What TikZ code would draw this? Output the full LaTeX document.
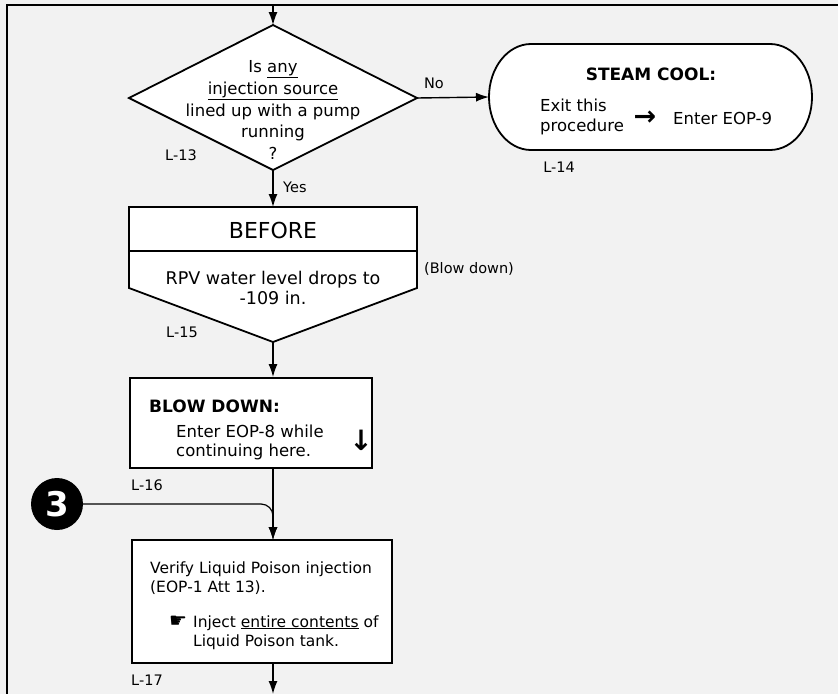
\documentclass[tikz,border=0pt]{standalone}
\usepackage{fontspec}
\setmainfont{DejaVu Sans}
\usetikzlibrary{arrows.meta}
\definecolor{bgc}{gray}{0.95}
\begin{document}
\begin{tikzpicture}[x=1pt,y=-1pt,
  shp/.style={draw=black, line width=1.8pt, fill=white, line join=miter},
  con/.style={line width=1.4pt},
  arr/.style={con, -{Latex[length=13pt,width=9pt]}},
  lbl/.style={inner sep=0pt, font=\fontsize{14.5}{17}\selectfont},
  txt/.style={inner sep=0pt, font=\fontsize{16.5}{19.5}\selectfont},
  vtxt/.style={inner sep=0pt, font=\fontsize{15.5}{19.5}\selectfont},
  hd/.style={inner sep=0pt, font=\bfseries\fontsize{17}{20}\selectfont}
]
\fill[bgc] (0,0) rectangle (838,694);
\useasboundingbox (0,0) rectangle (838,694);
\draw[line width=2pt] (838,5) -- (7,5) -- (7,694);

% decision diamond
\coordinate (entry) at (273,5);
\coordinate (dT) at (273,25);
\coordinate (dR) at (417,98);
\coordinate (dB) at (273,170);
\coordinate (dL) at (129,98);
\draw[shp] (dT) -- (dR) -- (dB) -- (dL) -- cycle;
\node[inner sep=0pt, align=center, font=\fontsize{16.5}{21.75}\selectfont] (q) at (273,110)
  {Is \underline{any}\\ \underline{injection source}\\ lined up with a pump\\ running\\ ?};
\node[lbl] (l13) at (181,155) {L-13};
\draw[arr] (entry) -- (dT);

% steam cool terminal
\coordinate (tL) at (489,97);
\draw[shp] (531,44) -- (770,44) arc[start angle=-90, end angle=90, x radius=42, y radius=53]
  -- (531,150) arc[start angle=90, end angle=270, x radius=42, y radius=53] -- cycle;
\node[hd] (sc) at (651,74) {STEAM COOL:};
\node[txt, anchor=west, align=left] (exit) at (540,117) {Exit this\\ procedure};
\node[inner sep=0pt, font=\bfseries\fontsize{27}{28}\selectfont] (sca) at (645,118) {→};
\node[txt, anchor=west] (enter) at (673,118) {Enter EOP-9};
\node[lbl] (l14) at (559,167) {L-14};
\draw[arr] (dR) -- (tL);
\node[lbl] (no) at (434,83) {No};

% BEFORE box
\coordinate (bT) at (273,207);
\coordinate (bB) at (273,342);
\draw[shp] (129,207) -- (417,207) -- (417,288) -- (bB) -- (129,288) -- cycle;
\draw[line width=1.8pt] (129,251) -- (417,251);
\node[inner sep=0pt, font=\fontsize{22}{26}\selectfont] (before) at (273,230) {BEFORE};
\node[inner sep=0pt, align=center, font=\fontsize{17.5}{19.5}\selectfont] (rpv) at (273,288)
  {RPV water level drops to\\ -109 in.};
\node[lbl] (bd) at (469,269) {(Blow down)};
\node[lbl] (l15) at (182,332) {L-15};
\draw[arr] (dB) -- (bT);
\node[lbl, anchor=west] (yes) at (283,187) {Yes};

% BLOW DOWN box
\node[shp, minimum width=242, minimum height=90, inner sep=0pt] (blow) at (251,423) {};
\node[hd, anchor=west] (bdt) at (149,406) {BLOW DOWN:};
\node[txt, anchor=west, align=left] (bdb) at (176,442.5) {Enter EOP-8 while\\ continuing here.};
\node[inner sep=0pt, font=\bfseries\fontsize{28}{30}\selectfont] (bda) at (361,440) {↓};
\node[lbl] (l16) at (147,485) {L-16};
\draw[arr] (bB) -- (bB |- blow.north);

% Verify box
\node[shp, minimum width=260, minimum height=123, inner sep=0pt] (ver) at (262,601.5) {};
\node[vtxt, anchor=west, align=left] (v1) at (150,578) {Verify Liquid Poison injection\\ (EOP-1 Att 13).};
\node[inner sep=0pt, font=\fontsize{20}{20}\selectfont] (hand) at (178,622) {☛};
\node[vtxt, anchor=west, align=left] (v2) at (193,632.5) {Inject \underline{entire contents} of\\ Liquid Poison tank.};
\node[lbl] (l17) at (147,680) {L-17};
\coordinate (vT) at (273,540);
\coordinate (vB) at (273,663);
\coordinate (out) at (273,694);
\draw[arr] (blow.south -| vT) -- (vT);
\draw[arr] (vB) -- (out);

% connector 3
\node[circle, fill=black, minimum size=52, inner sep=0pt, text=white,
  font=\bfseries\fontsize{34}{34}\selectfont] (c3) at (57,504) {3};
\coordinate (j3) at (273,504);
\draw[arr, line width=1.2pt, rounded corners=12] (c3.east) -- (j3) -- (vT);
\end{tikzpicture}
\end{document}
